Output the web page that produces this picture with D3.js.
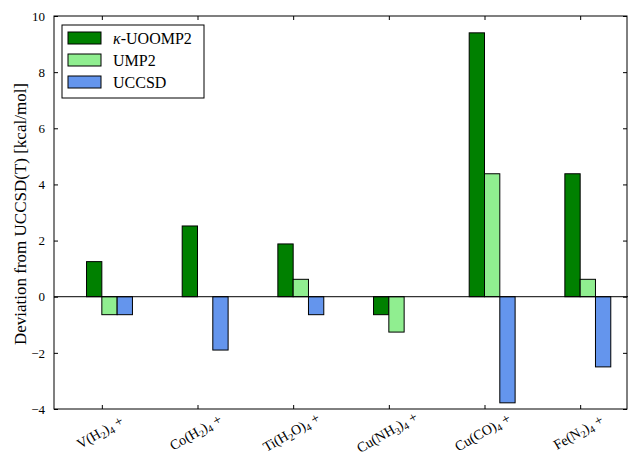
<!DOCTYPE html>
<html>
<head>
<meta charset="utf-8">
<script src="https://cdn.jsdelivr.net/npm/d3@7"></script>
<style>
  body { margin: 0; background: #fff; }
</style>
</head>
<body>
<div id="chart"></div>
<script>
// molecule labels as [text, isSubscript] pieces
const molecules = [
  [["V(H", 0], ["2", 1], [")", 0], ["4", 1], [" +", 0]],
  [["Co(H", 0], ["2", 1], [")", 0], ["4", 1], [" +", 0]],
  [["Ti(H", 0], ["2", 1], ["O)", 0], ["4", 1], [" +", 0]],
  [["Cu(NH", 0], ["3", 1], [")", 0], ["4", 1], [" +", 0]],
  [["Cu(CO)", 0], ["4", 1], [" +", 0]],
  [["Fe(N", 0], ["2", 1], [")", 0], ["4", 1], [" +", 0]]
];
const seriesNames = ["κ-UOOMP2", "UMP2", "UCCSD"];
const seriesColors = ["#008000", "#90ee90", "#6495ed"];
const uoomp2 = [1.25, 2.52, 1.88, -0.64, 9.4, 4.38];
const ump2 = [-0.64, 0, 0.62, -1.26, 4.38, 0.62];
const uccsd = [-0.64, -1.9, -0.64, 0, -3.78, -2.5];
const yTicks = [-4, -2, 0, 2, 4, 6, 8, 10];

const width = 628, height = 456;
const margin = { left: 54, right: 0, top: 16, bottom: 47 };
const FONT = "'Liberation Serif', 'Times New Roman', serif";

const svg = d3.select("#chart").append("svg")
  .attr("width", width)
  .attr("height", height)
  .style("font-family", FONT);

const x = d3.scaleLinear().domain([-0.5, 5.5]).range([margin.left, width - margin.right]);
const y = d3.scaleLinear().domain([-4, 10]).range([height - margin.bottom, margin.top]);
const barW = x(0.16) - x(0);

const allSeries = [uoomp2, ump2, uccsd];

// bars
allSeries.forEach((vals, s) => {
  svg.append("g").selectAll("rect")
    .data(vals)
    .enter()
    .append("rect")
    .attr("x", (d, i) => x(i - 0.16 + s * 0.16))
    .attr("width", barW)
    .attr("y", d => y(Math.max(0, d)))
    .attr("height", d => Math.abs(y(d) - y(0)))
    .attr("fill", seriesColors[s])
    .attr("stroke", "#000")
    .attr("stroke-width", 1);
});

// zero line
svg.append("line")
  .attr("x1", x(-0.5)).attr("x2", x(5.5))
  .attr("y1", y(0)).attr("y2", y(0))
  .attr("stroke", "#000").attr("stroke-width", 1);

// frame
svg.append("rect")
  .attr("x", x(-0.5)).attr("y", y(10))
  .attr("width", x(5.5) - x(-0.5) - 1)
  .attr("height", y(-4) - y(10))
  .attr("fill", "none").attr("stroke", "#000").attr("stroke-width", 1);

// y axis (ticks inward on both sides)
const yAxis = d3.axisLeft(y).tickValues(yTicks).tickSize(-4).tickPadding(9)
  .tickFormat(d => d < 0 ? "\u2212" + Math.abs(d) : d);
const gy = svg.append("g").attr("transform", `translate(${x(-0.5)},0)`).call(yAxis);
gy.select(".domain").remove();
gy.attr("font-family", null);
gy.selectAll("text").style("font-size", "13px").style("font-family", FONT);

const gyR = svg.append("g").attr("transform", `translate(${x(5.5) - 1},0)`)
  .call(d3.axisRight(y).tickValues(yTicks).tickSize(-4).tickFormat(""));
gyR.select(".domain").remove();

// x axis ticks (inward bottom and top)
const xIdx = d3.range(molecules.length);
const gxB = svg.append("g").attr("transform", `translate(0,${y(-4)})`)
  .call(d3.axisBottom(x).tickValues(xIdx).tickSize(-4).tickFormat(""));
gxB.select(".domain").remove();
const gxT = svg.append("g").attr("transform", `translate(0,${y(10)})`)
  .call(d3.axisTop(x).tickValues(xIdx).tickSize(-4).tickFormat(""));
gxT.select(".domain").remove();

// x labels rotated
const xl = svg.append("g").selectAll("text")
  .data(molecules)
  .enter()
  .append("text")
  .attr("transform", (d, i) => `translate(${x(i) - 2},${y(-4) + 23}) rotate(-30)`)
  .attr("text-anchor", "middle")
  .attr("dominant-baseline", "central")
  .style("font-family", FONT)
  .style("font-size", "14px");
xl.each(function (parts) {
  const t = d3.select(this);
  let shift = 0;
  parts.forEach(p => {
    const want = p[1] ? 4 : 0;
    t.append("tspan")
      .attr("dy", want - shift)
      .style("font-size", p[1] ? "10px" : "14px")
      .text(p[0]);
    shift = want;
  });
});

// y label, sized to span about 270px like the original
const yLabel = svg.append("text")
  .attr("transform", `translate(20,214) rotate(-90)`)
  .attr("text-anchor", "middle")
  .attr("dominant-baseline", "central")
  .style("font-family", FONT)
  .style("font-size", "17px")
  .text("Deviation from UCCSD(T) [kcal/mol]");
const labLen = yLabel.node().getComputedTextLength();
if (labLen > 0) yLabel.style("font-size", Math.min(17, 17 * 270 / labLen) + "px");

// legend
const lg = svg.append("g");
lg.append("rect")
  .attr("x", 62).attr("y", 25).attr("width", 142).attr("height", 73)
  .attr("fill", "#fff").attr("stroke", "#000").attr("stroke-width", 1);
seriesNames.forEach((name, s) => {
  const cy = 38 + s * 22;
  lg.append("rect")
    .attr("x", 68).attr("y", cy - 6).attr("width", 33).attr("height", 12)
    .attr("fill", seriesColors[s]).attr("stroke", "#000");
  const t = lg.append("text")
    .attr("x", 113).attr("y", cy)
    .attr("dominant-baseline", "central")
    .style("font-family", FONT)
    .style("font-size", "16px");
  if (s === 0) {
    t.append("tspan").style("font-style", "italic").text("κ");
    t.append("tspan").text("-UOOMP2");
  } else {
    t.text(name);
  }
});
</script>
</body>
</html>
